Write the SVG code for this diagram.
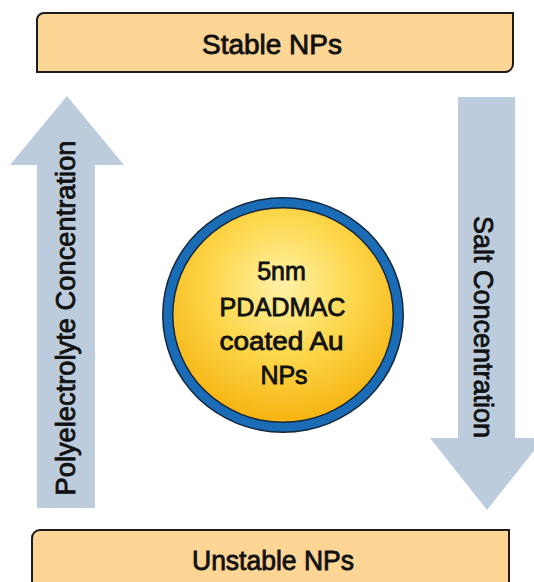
<svg xmlns="http://www.w3.org/2000/svg" width="534" height="582" viewBox="0 0 534 582">
  <defs>
    <radialGradient id="gold" cx="50%" cy="36%" r="64%">
      <stop offset="0" stop-color="#fff2a8"/>
      <stop offset="0.5" stop-color="#fdd84e"/>
      <stop offset="1" stop-color="#f6b412"/>
    </radialGradient>
    <style>
      .box { fill: #fdd594; stroke: #1c1c1c; stroke-width: 2; }
      .arrow { fill: #bdccdc; }
      .lbl { font-family: "Liberation Sans", Arial, sans-serif; fill: #111; stroke: #111; stroke-width: 0.8; text-anchor: middle; }
    </style>
  </defs>

  <g id="connectors">
    <g id="arrow-polyelectrolyte">
      <polygon class="arrow" points="67,96 124,165 95,165 95,508 37,508 37,165 10,165"/>
      <text class="lbl" font-size="27" transform="translate(75,318) rotate(-90)" textLength="355" lengthAdjust="spacingAndGlyphs">Polyelectrolyte Concentration</text>
    </g>
    <g id="arrow-salt">
      <polygon class="arrow" points="458,97 515,97 515,438 544,438 487,510 430,438 458,438"/>
      <text class="lbl" font-size="27" transform="translate(474,327) rotate(90)" textLength="222" lengthAdjust="spacingAndGlyphs">Salt Concentration</text>
    </g>
  </g>

  <g id="stable">
    <path class="box" d="M37,20 A7,7 0 0 1 44,13 L513,13 L513,64 A8,8 0 0 1 505,72 L37,72 Z"/>
    <text class="lbl" x="272" y="54" font-size="27" textLength="140" lengthAdjust="spacingAndGlyphs">Stable NPs</text>
  </g>

  <g id="unstable">
    <path class="box" d="M32,538 A8,8 0 0 1 40,530 L509,530 L509,592 L32,592 Z"/>
    <text class="lbl" x="273" y="570" font-size="27" textLength="162" lengthAdjust="spacingAndGlyphs">Unstable NPs</text>
  </g>

  <g id="nanoparticle">
    <ellipse cx="283" cy="315" rx="121" ry="118" fill="#14263a"/>
    <ellipse cx="283" cy="315" rx="119.5" ry="116.5" fill="#1b6cb6"/>
    <ellipse cx="283" cy="315" rx="111" ry="108" fill="#14263a"/>
    <ellipse cx="283" cy="315" rx="109.5" ry="106.5" fill="url(#gold)"/>
    <text class="lbl" font-size="25">
      <tspan x="285" y="280">5nm</tspan>
      <tspan x="286" y="316" textLength="126" lengthAdjust="spacingAndGlyphs">PDADMAC</tspan>
      <tspan x="285" y="350" textLength="124" lengthAdjust="spacingAndGlyphs">coated Au</tspan>
      <tspan x="284" y="384">NPs</tspan>
    </text>
  </g>
</svg>
